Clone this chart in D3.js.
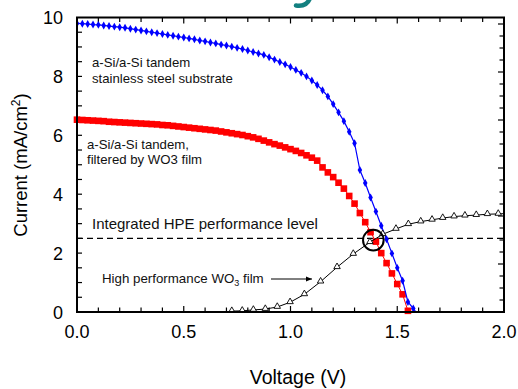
<!DOCTYPE html>
<html><head><meta charset="utf-8">
<script src="https://cdn.jsdelivr.net/npm/d3@7"></script>
<style>body{margin:0;background:#fff;} svg{display:block;font-family:"Liberation Sans",Arial,sans-serif;}</style>
</head><body><svg id="c" width="518" height="389"></svg>
<script>
// ---- data ----
const blueV = [0,0.025,0.05,0.075,0.1,0.125,0.15,0.175,0.2,0.225,0.25,0.275,0.3,0.325,0.35,0.375,0.4,0.425,0.45,0.475,0.5,0.525,0.55,0.575,0.6,0.625,0.65,0.675,0.7,0.725,0.75,0.775,0.8,0.825,0.85,0.875,0.9,0.925,0.95,0.975,1.0,1.025,1.05,1.075,1.1,1.125,1.15,1.175,1.2,1.225,1.25,1.275,1.3,1.325,1.35,1.375,1.4,1.425,1.45,1.475,1.5,1.525,1.55,1.575];
const blueI = [9.80,9.79,9.78,9.76,9.75,9.73,9.71,9.69,9.67,9.65,9.62,9.59,9.56,9.53,9.50,9.47,9.44,9.41,9.38,9.35,9.32,9.29,9.26,9.22,9.19,9.15,9.12,9.08,9.05,9.01,8.97,8.93,8.88,8.83,8.78,8.73,8.65,8.57,8.49,8.41,8.32,8.22,8.12,8.00,7.86,7.71,7.53,7.32,7.06,6.78,6.48,6.12,5.73,4.82,4.38,3.89,3.41,2.93,2.47,1.99,1.50,1.06,0.34,0.12];
const redV = [0,0.025,0.05,0.075,0.1,0.125,0.15,0.175,0.2,0.225,0.25,0.275,0.3,0.325,0.35,0.375,0.4,0.425,0.45,0.475,0.5,0.525,0.55,0.575,0.6,0.625,0.65,0.675,0.7,0.725,0.75,0.775,0.8,0.825,0.85,0.875,0.9,0.925,0.95,0.975,1.0,1.025,1.05,1.075,1.1,1.125,1.15,1.175,1.2,1.225,1.25,1.275,1.3,1.325,1.35,1.375,1.4,1.425,1.45,1.475,1.5,1.525,1.55];
const redI = [6.53,6.52,6.51,6.50,6.49,6.48,6.46,6.45,6.44,6.43,6.42,6.41,6.40,6.39,6.38,6.37,6.35,6.34,6.32,6.30,6.28,6.26,6.24,6.22,6.20,6.18,6.16,6.13,6.10,6.07,6.04,6.01,5.97,5.93,5.88,5.82,5.76,5.70,5.65,5.59,5.53,5.47,5.40,5.32,5.24,5.14,4.91,4.74,4.58,4.39,4.19,3.94,3.68,3.36,3.05,2.71,2.39,2.00,1.66,1.31,0.95,0.60,0.04];
const wo3V = [0.725,0.774,0.826,0.882,0.938,0.998,1.065,1.141,1.218,1.294,1.372,1.432,1.494,1.552,1.61,1.663,1.713,1.766,1.817,1.870,1.922,1.973,2.0];
const wo3I = [0.03,0.04,0.07,0.10,0.17,0.33,0.60,1.03,1.52,1.97,2.37,2.64,2.82,2.98,3.07,3.13,3.19,3.24,3.27,3.29,3.32,3.33,3.34];
const hpeLevel = 2.5;
const circlePt = {v:1.388, i:2.44};
const xTickLabels = ["0.0","0.5","1.0","1.5","2.0"];
const yTickLabels = ["0","2","4","6","8","10"];

// ---- layout ----
const svg = d3.select("#c");
const L=77, R=504, T=17.5, B=312;
const x = d3.scaleLinear().domain([0,2]).range([L,R]);
const y = d3.scaleLinear().domain([0,10]).range([B,T]);
const yR = d3.scaleLinear().domain([0,(B-T)/12]).range([B,T]);

// teal fragment of a cut-off slide title (glyph descender)
svg.append("path").attr("d","M310,-2 C308,4 303,6.5 296,5.5")
  .attr("fill","none").attr("stroke","#138080").attr("stroke-width",4.5).attr("stroke-linecap","round");

// ticks
const tk = svg.append("g").attr("stroke","#000").attr("stroke-width",1.2);
d3.range(1,20).forEach(k=>{
  const v=k/10, len = (k%5===0)?6:4.5;
  tk.append("line").attr("x1",x(v)).attr("x2",x(v)).attr("y1",B).attr("y2",B-len);
  tk.append("line").attr("x1",x(v)).attr("x2",x(v)).attr("y1",T).attr("y2",T+len);
});
d3.range(1,20).forEach(k=>{
  const v=k/2;
  tk.append("line").attr("x1",L).attr("x2",L+5).attr("y1",y(v)).attr("y2",y(v));
});
d3.range(1,25).forEach(k=>{
  const len=(k%4===0)?6:4.5;
  tk.append("line").attr("x1",R).attr("x2",R-len).attr("y1",yR(k)).attr("y2",yR(k));
});

// tick labels
svg.append("g").selectAll("text").data(xTickLabels).join("text")
  .attr("x",d=>x(+d)).attr("y",337.5).attr("text-anchor","middle").attr("font-size",18).attr("fill","#000").text(d=>d);
svg.append("g").selectAll("text").data(yTickLabels).join("text")
  .attr("x",63).attr("y",d=>y(+d)+6.5).attr("text-anchor","end").attr("font-size",18).attr("fill","#000").text(d=>d);

// axis titles
svg.append("text").attr("x",298).attr("y",384).attr("text-anchor","middle").attr("font-size",19.5).text("Voltage (V)");
const yt = svg.append("text").attr("transform","translate(27,165) rotate(-90)").attr("text-anchor","middle").attr("font-size",18.5);
yt.append("tspan").text("Current (mA/cm");
yt.append("tspan").attr("font-size",12).attr("dy",-7).text("2");
yt.append("tspan").attr("dy",7).text(")");

// dashed HPE line
svg.append("line").attr("x1",x(0)).attr("x2",x(2)).attr("y1",y(hpeLevel)).attr("y2",y(hpeLevel))
  .attr("stroke","#000").attr("stroke-width",1.2).attr("stroke-dasharray","6,4");

const line = d3.line().x(d=>x(d[0])).y(d=>y(d[1]));
svg.append("defs").append("clipPath").attr("id","pc").append("rect")
  .attr("x",L).attr("y",T-5).attr("width",R-L).attr("height",B-T+5);

// red series
const red = redV.map((v,i)=>[v,redI[i]]);
const g = svg.append("g");
g.append("path").datum(red).attr("d",line).attr("fill","none").attr("stroke","#ff0000").attr("stroke-width",1);
g.append("g").selectAll("rect").data(red).join("rect")
  .attr("x",d=>x(d[0])-3.3).attr("y",d=>y(d[1])-3.3).attr("width",6.6).attr("height",6.6).attr("fill","#ff0000");

// blue series
const blue = blueV.map((v,i)=>[v,blueI[i]]);
blue.push([1.595,-0.08]);
const gb = svg.append("g").attr("clip-path","url(#pc)");
gb.append("path").datum(blue).attr("d",line).attr("fill","none").attr("stroke","#0000ff").attr("stroke-width",1.2);
gb.append("g").selectAll("path").data(blue.slice(0,-1)).join("path")
  .attr("d",d3.symbol(d3.symbolDiamond,18)).attr("transform",d=>`translate(${x(d[0])},${y(d[1])})`).attr("fill","#0000ff");

// WO3 series
const wo3 = wo3V.map((v,i)=>[v,wo3I[i]]);
svg.append("path").datum(wo3).attr("d",line).attr("fill","none").attr("stroke","#000").attr("stroke-width",1);
svg.append("g").selectAll("path").data(wo3.slice(0,-1)).join("path")
  .attr("d",d3.symbol(d3.symbolTriangle,18)).attr("transform",d=>`translate(${x(d[0])},${y(d[1])-0.5})`)
  .attr("fill","#fff").attr("stroke","#000").attr("stroke-width",0.9);

// circle
svg.append("circle").attr("cx",x(circlePt.v)).attr("cy",y(circlePt.i)).attr("r",10.3)
  .attr("fill","none").attr("stroke","#000").attr("stroke-width",2);

// frame
svg.append("rect").attr("x",L).attr("y",T).attr("width",R-L).attr("height",B-T)
  .attr("fill","none").attr("stroke","#000").attr("stroke-width",2);

// annotations
const ann = (tx,ty,s,fs)=>svg.append("text").attr("x",tx).attr("y",ty).attr("font-size",fs).attr("fill","#111").text(s);
ann(92,66.5,"a-Si/a-Si tandem",13.2);
ann(92,82.5,"stainless steel substrate",13.2);
ann(87,148.5,"a-Si/a-Si tandem,",13.2);
ann(87,163.5,"filtered by WO3 film",13.2);
ann(92,228.5,"Integrated HPE performance level",15);
const hp = svg.append("text").attr("x",102).attr("y",282.5).attr("font-size",13.3).attr("fill","#111");
hp.append("tspan").text("High performance WO");
hp.append("tspan").attr("font-size",9).attr("dy",3).text("3");
hp.append("tspan").attr("dy",-3).text(" film");
// arrow
svg.append("defs").append("marker").attr("id","ah").attr("viewBox","0 0 10 10").attr("refX",10).attr("refY",5)
  .attr("markerWidth",8).attr("markerHeight",6).attr("orient","auto")
  .append("path").attr("d","M0,1 L10,5 L0,9 Z").attr("fill","#000");
svg.append("line").attr("x1",271).attr("x2",312).attr("y1",279).attr("y2",279)
  .attr("stroke","#000").attr("stroke-width",1).attr("marker-end","url(#ah)");
</script></body></html>
